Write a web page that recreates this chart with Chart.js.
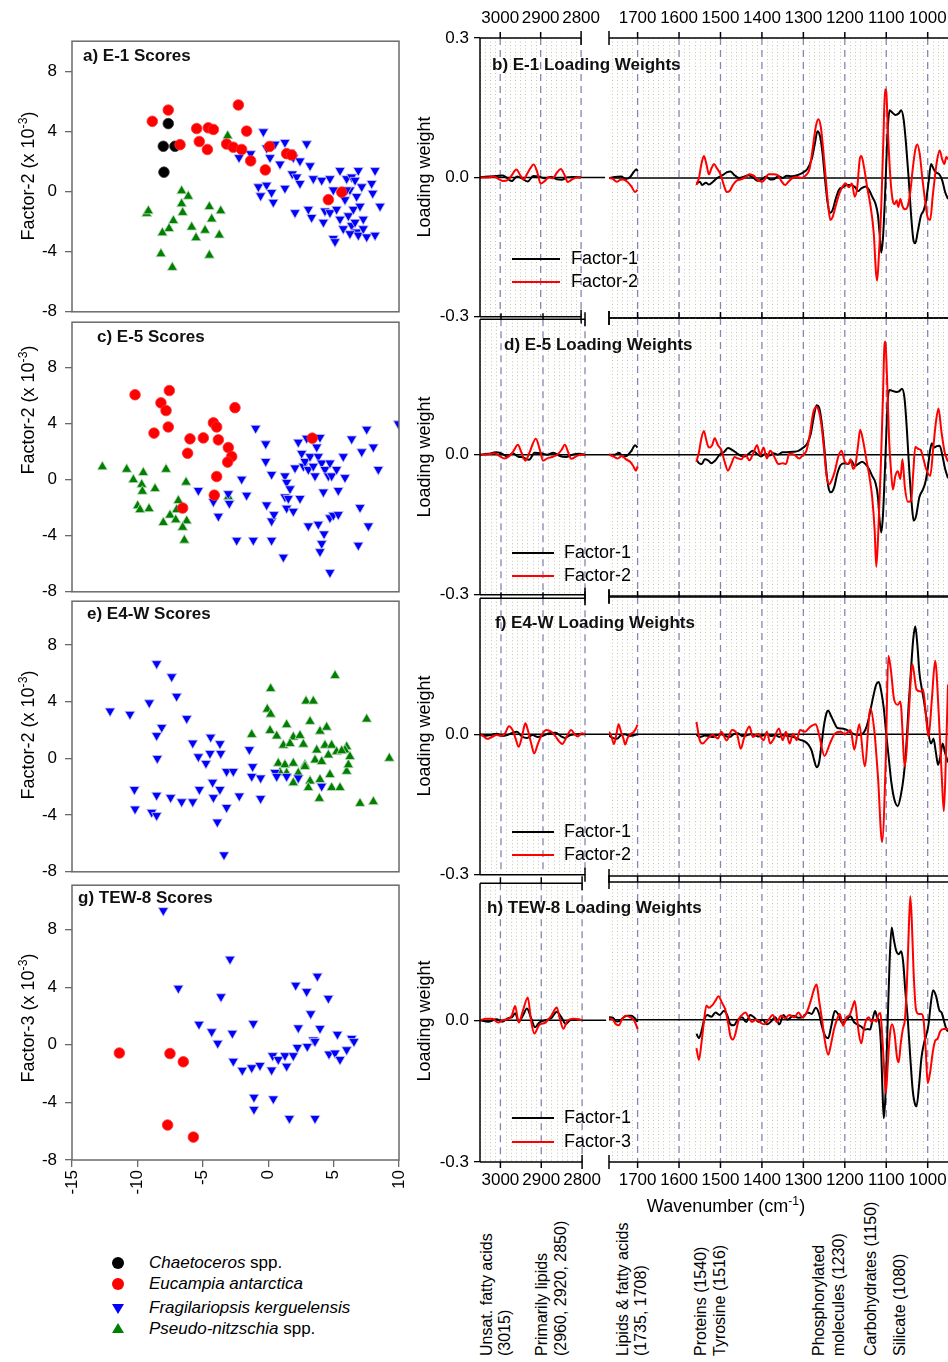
<!DOCTYPE html>
<html><head><meta charset="utf-8">
<script src="https://cdn.jsdelivr.net/npm/chart.js@4.4.1/dist/chart.umd.min.js"></script>
<style>
html,body{margin:0;padding:0;background:#fff;}
#fig{position:relative;width:948px;height:1362px;overflow:hidden;font-family:"Liberation Sans",Arial,Helvetica,sans-serif;color:#000;background:#fff;}
canvas{position:absolute;}
.rot{position:absolute;white-space:nowrap;transform:translate(-50%,-50%) rotate(-90deg);line-height:1;}
.ann{position:absolute;white-space:nowrap;transform-origin:0 0;transform:rotate(-90deg);font-size:16px;line-height:18px;}
.txt{position:absolute;white-space:nowrap;}
sup{font-size:0.68em;vertical-align:0.55em;line-height:0;}
</style></head><body><div id="fig"></div>
<script>
// ---------------- DATA ----------------
// Score plots: [x, y] pairs (x 10^-3)
const A_CHAETOCEROS = [[-7.64,4.52],[-8.02,3.01],[-7.13,3.01],[-7.97,1.29]];
const A_EUCAMPIA = [[-8.86,4.67],[-7.64,5.42],[-6.74,3.12],[-5.47,4.19],[-5.27,3.33],[-4.65,2.80],[-4.58,4.24],[-4.19,4.13],[-3.18,3.16],[-2.67,2.95],[-2.28,5.76],[-2.03,2.80],[-1.65,4.02],[-1.34,2.04],[-0.22,1.44],[0.10,3.00],[1.41,2.52],[1.79,2.43],[4.60,-0.54],[5.62,-0.04]];
const A_FRAGILARIOPSIS = [[-0.37,3.98],[-0.12,2.90],[0.52,3.16],[1.28,3.27],[2.94,3.18],[-2.23,2.26],[-1.34,2.52],[0.14,2.26],[0.90,1.83],[1.67,2.58],[1.92,2.26],[2.43,2.04],[3.20,1.72],[1.84,1.18],[2.18,0.97],[2.43,0.54],[3.45,0.86],[-0.75,0.32],[-0.12,0.43],[-0.58,-0.28],[0.26,-0.06],[0.39,-0.71],[1.28,0.22],[2.05,-1.40],[3.07,-1.18],[3.32,-1.72],[4.22,-2.04],[4.09,0.75],[4.72,0.86],[4.98,0.11],[5.49,1.40],[6.00,0.86],[6.38,0.97],[6.64,0.75],[6.89,1.40],[7.15,0.32],[7.91,0.54],[8.17,1.40],[7.99,-0.11],[4.34,-1.29],[4.72,-1.40],[5.23,-1.18],[5.49,-1.83],[5.87,-0.54],[6.25,0.11],[6.13,-1.61],[6.51,-1.18],[6.76,-0.32],[7.02,-0.97],[7.27,-1.83],[6.38,-2.26],[6.76,-2.69],[6.89,-2.90],[7.27,-2.47],[7.53,-3.01],[8.17,-2.90],[8.55,-0.97],[4.98,-3.12],[5.11,-3.33],[5.74,-2.47],[6.25,-2.80],[6.64,-2.04],[6.00,0.11]];
const A_PSEUDONITZSCHIA = [[-3.10,3.70],[-9.29,-1.46],[-9.16,-1.29],[-6.62,0.04],[-6.11,-0.32],[-6.62,-0.82],[-6.54,-1.40],[-7.25,-1.94],[-7.58,-2.47],[-8.09,-2.75],[-5.85,-2.37],[-5.52,-3.08],[-4.83,-2.58],[-4.50,-1.01],[-4.32,-1.83],[-3.63,-1.29],[-3.74,-2.90],[-4.50,-4.24],[-8.20,-4.15],[-7.33,-5.05]];

const C_EUCAMPIA = [[-10.18,6.07],[-7.56,6.37],[-8.20,5.49],[-7.81,4.94],[-7.64,3.77],[-8.73,3.33],[-5.98,2.92],[-4.96,2.99],[-4.19,4.07],[-3.94,3.77],[-3.81,2.85],[-6.16,1.89],[-3.05,2.30],[-2.79,1.66],[-3.10,1.26],[-2.54,5.15],[-3.94,0.23],[-4.12,-1.10],[-6.54,-2.02],[3.37,2.97]];
const C_FRAGILARIOPSIS = [[-5.34,-0.76],[-4.19,-1.56],[-3.81,-2.60],[-3.05,-0.99],[-2.97,-1.68],[-2.41,-4.32],[-2.03,0.05],[-1.65,-1.10],[-1.14,-4.32],[-0.96,3.68],[-0.19,2.57],[-0.19,1.31],[-0.12,-1.79],[0.26,0.39],[0.26,-2.94],[0.26,-4.32],[0.44,-2.48],[1.16,-5.52],[1.28,0.28],[1.28,-1.22],[1.41,-0.18],[1.41,-2.02],[1.54,-1.33],[1.67,-0.64],[1.92,-2.25],[2.05,0.85],[2.30,2.69],[2.43,-1.33],[2.56,1.89],[2.69,0.97],[2.94,2.97],[2.81,1.31],[3.07,0.74],[3.20,1.66],[3.45,0.97],[3.58,0.28],[3.71,2.34],[3.83,1.66],[3.96,3.03],[4.09,1.20],[4.22,-0.87],[4.34,0.74],[4.60,0.28],[4.72,1.20],[4.85,0.28],[5.23,0.74],[5.36,-0.76],[5.87,0.16],[5.74,1.66],[4.72,-2.71],[4.98,-2.53],[5.36,-2.48],[3.07,-3.29],[3.83,-3.17],[4.27,-3.86],[4.09,-4.55],[3.96,-5.13],[4.72,-6.62],[6.38,2.92],[7.15,2.00],[7.53,3.61],[8.04,2.34],[8.42,0.74],[7.02,-1.98],[7.66,-3.29],[6.89,-4.67],[9.95,4.00]];
const C_PSEUDONITZSCHIA = [[-12.68,0.92],[-10.82,0.74],[-9.55,0.51],[-10.31,0.00],[-9.67,-0.34],[-9.62,-0.83],[-8.65,-0.64],[-7.81,0.74],[-6.28,-0.18],[-9.98,-1.86],[-9.80,-2.14],[-9.11,-2.07],[-6.87,-1.49],[-7.00,-2.14],[-7.51,-2.53],[-8.02,-3.06],[-7.07,-2.87],[-6.23,-2.94],[-6.54,-3.40],[-6.41,-4.32],[-3.05,-1.22]];

const E_FRAGILARIOPSIS = [[-12.09,3.34],[-10.57,3.11],[-9.09,3.92],[-8.53,6.68],[-7.38,5.76],[-7.00,4.38],[-8.14,2.19],[-8.53,1.61],[-6.23,2.81],[-8.48,0.00],[-10.23,-2.19],[-10.18,-3.57],[-8.91,-3.80],[-8.53,-4.03],[-8.53,-2.60],[-7.46,-2.76],[-6.62,-3.06],[-5.77,-3.06],[-5.77,1.08],[-5.34,0.12],[-5.26,-2.19],[-4.76,-0.35],[-4.45,0.35],[-4.40,1.50],[-3.69,1.04],[-3.63,0.35],[-4.25,-1.68],[-4.19,-2.76],[-3.69,-2.19],[-3.18,-0.92],[-2.67,-0.92],[-3.18,-3.46],[-2.21,-2.65],[-3.89,-4.49],[-3.38,-6.80],[-1.44,0.62],[-1.19,-0.58],[-1.26,-1.27],[-0.58,-1.38],[-0.58,-2.83],[0.52,-0.99],[0.65,-1.27],[1.41,-1.27],[2.30,-1.38],[4.09,-1.96]];
const E_PSEUDONITZSCHIA = [[0.19,4.91],[-0.07,3.46],[0.19,3.11],[-1.26,1.68],[0.14,1.96],[0.65,1.57],[1.41,2.37],[1.92,1.50],[2.43,1.61],[1.16,0.92],[1.67,1.04],[2.69,0.99],[3.20,2.60],[2.89,4.03],[3.45,4.03],[5.11,5.83],[3.96,1.91],[4.47,2.19],[4.34,0.92],[3.71,0.58],[4.85,0.92],[6.00,0.81],[5.87,0.58],[7.53,2.76],[9.26,0.00],[0.77,-0.35],[1.28,-0.46],[1.92,-0.35],[2.81,-0.46],[3.58,-0.12],[4.09,-0.23],[4.60,0.23],[5.23,0.46],[5.62,0.53],[6.25,0.12],[0.90,-0.99],[1.41,-1.04],[2.30,-1.04],[2.81,-0.58],[3.20,-1.61],[3.96,-1.50],[1.92,-1.73],[3.07,-2.07],[3.91,-2.83],[4.85,-2.07],[5.49,-2.07],[7.02,-3.18],[8.04,-3.06],[6.00,-0.92],[4.72,-1.15],[6.13,-0.46]];

const G_EUCAMPIA = [[-11.38,-0.57],[-7.51,-0.61],[-6.49,-1.18],[-7.69,-5.57],[-5.72,-6.41]];
const G_FRAGILARIOPSIS = [[-8.02,9.32],[-6.87,3.93],[-2.92,5.95],[-3.61,3.34],[-5.29,1.43],[-4.32,0.91],[-3.86,0.11],[-2.74,0.80],[-2.67,-1.14],[-1.98,-1.77],[-1.26,-1.59],[-1.14,1.48],[-0.63,-1.43],[-1.09,-3.64],[-1.09,-4.48],[0.26,-1.75],[0.39,-3.75],[0.34,-0.75],[0.77,-1.02],[1.28,-0.75],[1.41,-1.48],[1.62,-5.11],[1.92,-0.75],[2.10,4.14],[2.30,1.18],[2.23,-0.18],[2.94,3.70],[2.99,-0.11],[3.25,2.16],[3.45,0.34],[3.58,0.23],[3.76,4.77],[3.96,1.14],[3.58,-5.11],[4.60,3.23],[4.65,-0.64],[5.11,-0.57],[5.29,0.73],[5.49,-1.02],[6.00,-0.34],[6.38,0.45],[6.56,0.23]];

// Loading weights: [wavenumber (cm-1), loading weight]; null = no data
const E1_FACTOR1 = [[3050,0],[3030,0.002],[3010,0.003],[2995,0.004],[2985,0],[2972,-0.008],[2958,0.002],[2945,-0.003],[2932,-0.009],[2918,0.003],[2905,0.002],[2890,-0.002],[2875,0.001],[2860,-0.004],[2848,-0.005],[2835,0],[2820,0.001],[2800,0],
[1769,0],[1755,0.002],[1740,0.003],[1728,-0.002],[1718,0.002],[1710,0.012],[1703,0.019],[1700,0.015],[1630,null],
[1558,-0.012],[1550,-0.008],[1544,-0.015],[1535,-0.01],[1528,-0.014],[1518,-0.008],[1508,0],[1495,0.006],[1485,0.012],[1476,0.014],[1466,0.006],[1455,0],[1445,0.002],[1432,0.006],[1420,0],[1410,-0.006],[1400,-0.003],[1390,0.003],[1380,-0.003],[1370,-0.002],[1360,0.004],[1350,0],[1340,0.005],[1328,0.004],[1315,0.006],[1300,0.012],[1290,0.02],[1280,0.04],[1272,0.075],[1266,0.1],[1260,0.09],[1254,0.055],[1248,0],[1242,-0.05],[1236,-0.075],[1230,-0.07],[1222,-0.045],[1214,-0.025],[1205,-0.02],[1195,-0.015],[1185,-0.015],[1175,-0.02],[1168,-0.028],[1160,-0.022],[1150,-0.018],[1142,-0.025],[1134,-0.04],[1126,-0.055],[1120,-0.08],[1116,-0.12],[1112,-0.16],[1108,-0.13],[1104,-0.06],[1100,0.03],[1096,0.11],[1092,0.145],[1085,0.14],[1078,0.135],[1070,0.138],[1064,0.145],[1058,0.125],[1052,0.07],[1046,0],[1040,-0.08],[1034,-0.135],[1030,-0.14],[1024,-0.115],[1016,-0.08],[1010,-0.07],[1004,-0.05],[998,-0.01],[992,0.03],[986,0.02],[980,0.012],[972,0.008],[965,-0.005],[958,-0.03],[951,-0.045]];
const E1_FACTOR2 = [[3050,0],[3030,0],[3015,0.002],[3005,-0.003],[2992,-0.008],[2982,-0.006],[2972,0.004],[2960,0.017],[2950,0.004],[2942,-0.004],[2932,0.01],[2917,0.028],[2908,0.01],[2900,-0.013],[2890,-0.008],[2880,0],[2870,-0.002],[2860,0.01],[2850,0.018],[2841,0.005],[2833,-0.01],[2822,-0.004],[2810,0],[2800,0],
[1769,0],[1760,-0.002],[1750,-0.008],[1742,-0.004],[1735,-0.003],[1725,-0.008],[1715,-0.018],[1706,-0.03],[1700,-0.025],[1630,null],
[1558,-0.015],[1552,0],[1546,0.03],[1540,0.047],[1534,0.03],[1528,0.008],[1522,0.02],[1516,0.03],[1508,0.02],[1500,0.008],[1492,-0.015],[1485,-0.03],[1478,-0.028],[1470,-0.015],[1460,-0.005],[1450,-0.003],[1440,0.002],[1430,0.008],[1420,0.005],[1410,-0.004],[1400,-0.008],[1392,-0.002],[1384,0.008],[1372,0.008],[1362,0.006],[1352,-0.008],[1344,-0.015],[1336,-0.008],[1326,0],[1315,0.002],[1305,0],[1295,0.005],[1285,0.02],[1278,0.06],[1270,0.11],[1264,0.126],[1258,0.11],[1252,0.06],[1246,0],[1240,-0.06],[1235,-0.09],[1230,-0.085],[1222,-0.06],[1214,-0.035],[1205,-0.018],[1198,-0.012],[1190,-0.02],[1183,-0.012],[1176,-0.04],[1170,-0.02],[1164,0.04],[1160,0.047],[1154,0.025],[1146,-0.02],[1138,-0.06],[1130,-0.12],[1125,-0.2],[1122,-0.22],[1118,-0.17],[1112,-0.06],[1107,0.08],[1103,0.19],[1100,0.185],[1096,0.1],[1090,0],[1085,-0.045],[1080,-0.056],[1075,-0.048],[1071,-0.062],[1066,-0.045],[1061,-0.06],[1055,-0.067],[1048,-0.06],[1042,-0.03],[1036,0.02],[1030,0.06],[1025,0.072],[1019,0.05],[1013,0],[1006,-0.05],[1000,-0.085],[994,-0.09],[988,-0.04],[983,0],[977,0.04],[971,0.059],[965,0.04],[960,0.03],[955,0.045],[951,0.04]];

const E5_FACTOR1 = [[3050,0],[3030,0.002],[3012,0.005],[2998,0.002],[2985,-0.004],[2972,0.003],[2960,-0.004],[2947,-0.006],[2933,-0.011],[2920,0.004],[2905,0.003],[2890,0],[2875,0.004],[2860,-0.003],[2845,-0.005],[2830,0],[2815,0.002],[2800,0],
[1769,0],[1755,0],[1745,0.004],[1735,-0.004],[1725,-0.002],[1715,0.008],[1706,0.02],[1700,0.015],[1630,null],
[1558,-0.01],[1552,-0.018],[1545,-0.02],[1538,-0.01],[1530,-0.012],[1522,-0.018],[1512,-0.012],[1502,0],[1492,0.005],[1482,0.014],[1472,0.01],[1462,0.004],[1452,-0.002],[1442,-0.004],[1432,0.002],[1422,0.008],[1412,0.002],[1402,-0.004],[1392,0.002],[1382,-0.002],[1372,0.003],[1362,0],[1350,0.005],[1340,0.005],[1325,0.006],[1312,0.008],[1300,0.015],[1290,0.025],[1282,0.045],[1275,0.08],[1268,0.105],[1262,0.1],[1256,0.07],[1250,0.02],[1244,-0.04],[1238,-0.075],[1233,-0.08],[1226,-0.07],[1218,-0.04],[1210,-0.022],[1200,-0.018],[1192,-0.02],[1184,-0.013],[1176,-0.024],[1168,-0.02],[1158,-0.015],[1150,-0.02],[1142,-0.03],[1134,-0.045],[1126,-0.06],[1120,-0.09],[1116,-0.14],[1112,-0.165],[1108,-0.13],[1104,-0.05],[1100,0.04],[1096,0.12],[1092,0.137],[1084,0.135],[1076,0.133],[1068,0.135],[1062,0.14],[1056,0.12],[1050,0.05],[1044,-0.04],[1038,-0.11],[1034,-0.14],[1028,-0.13],[1020,-0.09],[1012,-0.075],[1006,-0.06],[1000,-0.03],[994,0.01],[990,0.024],[984,0.015],[978,0.018],[971,0.019],[965,0],[958,-0.03],[951,-0.05]];
const E5_FACTOR2 = [[3050,0],[3030,0.001],[3015,0.003],[3003,-0.003],[2992,-0.008],[2980,-0.003],[2970,0.008],[2960,0.021],[2951,0.004],[2942,-0.013],[2932,0.005],[2917,0.034],[2908,0.012],[2900,-0.013],[2890,-0.008],[2878,-0.005],[2866,0],[2856,0.01],[2848,0.021],[2840,0.005],[2833,-0.009],[2820,-0.003],[2810,0],[2800,0],
[1769,0],[1758,-0.004],[1748,-0.008],[1738,-0.003],[1728,-0.01],[1718,-0.015],[1710,-0.025],[1704,-0.034],[1700,-0.025],[1630,null],
[1558,-0.015],[1552,0.005],[1546,0.035],[1540,0.05],[1534,0.03],[1528,0.015],[1520,0.02],[1514,0.035],[1506,0.02],[1498,0.01],[1490,-0.015],[1482,-0.034],[1474,-0.02],[1466,-0.005],[1458,-0.008],[1450,-0.01],[1440,0],[1430,-0.012],[1420,0.005],[1412,0.02],[1404,0],[1396,0.015],[1388,-0.008],[1380,0.008],[1370,-0.005],[1360,-0.02],[1350,-0.018],[1342,-0.02],[1334,0.002],[1322,0],[1310,-0.008],[1300,0],[1292,0.01],[1284,0.045],[1276,0.09],[1268,0.101],[1262,0.09],[1256,0.06],[1250,0.01],[1244,-0.045],[1238,-0.063],[1232,-0.055],[1224,-0.035],[1216,-0.005],[1208,0.008],[1200,-0.015],[1192,-0.02],[1186,-0.01],[1180,-0.03],[1174,-0.02],[1168,0.02],[1163,0.053],[1156,0.03],[1148,-0.01],[1140,-0.05],[1134,-0.09],[1128,-0.16],[1124,-0.238],[1119,-0.16],[1113,-0.02],[1108,0.12],[1105,0.22],[1102,0.24],[1098,0.16],[1093,0.03],[1088,-0.04],[1084,-0.074],[1078,-0.045],[1072,-0.035],[1066,-0.052],[1061,-0.01],[1055,-0.07],[1048,-0.1],[1040,-0.098],[1035,-0.04],[1030,0.016],[1022,0.012],[1017,0.01],[1010,-0.01],[1004,-0.03],[994,-0.045],[986,0.02],[980,0.07],[974,0.098],[967,0.05],[959,0.005],[951,-0.015]];

const E4W_FACTOR1 = [[3050,0],[3040,-0.004],[3025,-0.002],[3010,0.001],[2998,-0.004],[2985,-0.002],[2972,0.003],[2962,0.005],[2950,-0.005],[2938,-0.008],[2925,-0.002],[2912,-0.006],[2900,-0.003],[2885,0.002],[2870,0.003],[2858,-0.004],[2848,-0.008],[2835,-0.002],[2820,0],[2800,0],
[1769,-0.003],[1760,-0.008],[1750,-0.01],[1740,-0.002],[1730,0],[1720,-0.004],[1710,-0.003],[1700,0],[1630,null],
[1558,0],[1552,-0.006],[1545,-0.005],[1538,-0.003],[1528,-0.004],[1518,-0.006],[1508,-0.002],[1498,0],[1488,-0.004],[1478,-0.006],[1468,0],[1458,0.002],[1448,-0.004],[1438,-0.003],[1428,0],[1418,-0.002],[1408,-0.005],[1398,-0.003],[1388,0],[1378,-0.004],[1368,-0.002],[1358,-0.006],[1348,-0.002],[1338,-0.004],[1328,-0.005],[1318,-0.008],[1308,-0.012],[1298,-0.015],[1288,-0.022],[1280,-0.035],[1274,-0.055],[1268,-0.07],[1262,-0.06],[1256,-0.02],[1250,0.02],[1244,0.045],[1240,0.05],[1234,0.04],[1226,0.025],[1218,0.013],[1208,0.012],[1198,0.01],[1188,0.005],[1178,0],[1168,-0.002],[1158,0],[1150,0.01],[1143,0.03],[1136,0.06],[1130,0.085],[1124,0.105],[1118,0.11],[1112,0.09],[1106,0.055],[1100,0],[1094,-0.05],[1088,-0.1],[1080,-0.14],[1072,-0.152],[1065,-0.13],[1058,-0.09],[1052,-0.03],[1046,0.06],[1040,0.14],[1035,0.2],[1030,0.228],[1025,0.19],[1020,0.13],[1015,0.1],[1010,0.075],[1004,0.04],[998,0],[992,-0.02],[986,-0.01],[980,-0.04],[975,-0.065],[970,-0.05],[964,-0.02],[958,-0.04],[951,-0.06]];
const E4W_FACTOR2 = [[3050,0],[3042,-0.004],[3033,-0.01],[3022,-0.006],[3010,-0.002],[2998,-0.004],[2990,0.002],[2981,0.017],[2972,0.008],[2965,-0.01],[2958,-0.027],[2950,-0.005],[2942,0.023],[2935,0.005],[2928,-0.02],[2921,-0.041],[2912,-0.02],[2902,0],[2892,0.009],[2880,0.005],[2870,-0.005],[2862,-0.015],[2854,-0.021],[2845,-0.008],[2833,0.009],[2825,0],[2817,-0.005],[2808,0.002],[2800,0],
[1769,0.005],[1763,-0.005],[1757,-0.021],[1751,0],[1746,0.021],[1740,0.005],[1734,-0.01],[1730,-0.022],[1724,-0.008],[1717,0],[1710,0.004],[1704,0.012],[1700,0.02],[1630,null],
[1558,0.026],[1550,-0.013],[1543,-0.02],[1531,-0.009],[1519,-0.002],[1506,-0.009],[1498,0.005],[1485,-0.013],[1472,0.009],[1460,0],[1451,-0.031],[1443,-0.008],[1430,0.016],[1422,-0.006],[1409,0.001],[1396,-0.013],[1388,0.005],[1380,-0.02],[1371,-0.009],[1359,0.012],[1350,-0.013],[1342,0.005],[1333,-0.02],[1325,0.001],[1316,-0.013],[1308,0.009],[1296,0.005],[1283,0.016],[1270,0.021],[1262,-0.002],[1249,-0.046],[1236,-0.02],[1224,0.001],[1211,0.005],[1199,0],[1186,0.009],[1177,-0.033],[1165,0.021],[1152,-0.068],[1138,0.055],[1129,0.009],[1120,-0.09],[1110,-0.228],[1101,-0.048],[1095,0.166],[1089,0.137],[1081,0.073],[1072,0.062],[1066,0.069],[1055,-0.068],[1047,0.023],[1037,0.148],[1027,0.094],[1017,0.09],[1011,0.094],[1004,0.037],[998,-0.006],[990,0.073],[982,0.155],[973,0.037],[966,-0.091],[961,-0.163],[956,-0.049],[951,0.105]];

const TEW8_FACTOR1 = [[3050,0],[3030,-0.003],[3010,0.002],[2995,-0.003],[2980,0.005],[2972,0.006],[2964,0.015],[2955,-0.003],[2945,0.01],[2935,0.025],[2925,0.005],[2915,-0.015],[2905,-0.005],[2890,0],[2875,0.005],[2862,0.018],[2850,0.005],[2840,-0.008],[2830,0],[2815,0.002],[2800,0],
[1769,0.005],[1760,0.004],[1750,-0.004],[1742,-0.002],[1735,0.004],[1725,0.008],[1715,0.008],[1708,0.004],[1700,-0.005],[1630,null],
[1558,-0.03],[1552,-0.039],[1546,-0.025],[1540,-0.002],[1532,0.01],[1522,0.006],[1512,0.015],[1502,0.01],[1492,0.018],[1484,0.01],[1476,-0.01],[1468,-0.012],[1458,0],[1448,0.005],[1438,-0.005],[1428,0.01],[1418,0.004],[1408,-0.005],[1398,0],[1388,-0.01],[1378,-0.004],[1368,0.005],[1358,-0.01],[1348,0.01],[1338,0],[1325,0.008],[1312,0.004],[1300,0.006],[1290,0.015],[1280,0.012],[1270,0.025],[1262,0.012],[1255,-0.015],[1247,-0.035],[1240,-0.039],[1233,-0.015],[1224,0.018],[1215,0.01],[1206,-0.007],[1196,0],[1186,0.007],[1178,-0.005],[1170,-0.01],[1160,-0.015],[1152,-0.021],[1144,-0.02],[1139,-0.021],[1133,0],[1127,0.018],[1122,0.005],[1117,-0.007],[1113,-0.05],[1109,-0.15],[1106,-0.208],[1102,-0.16],[1097,-0.02],[1092,0.12],[1087,0.194],[1082,0.17],[1076,0.145],[1070,0.138],[1064,0.144],[1059,0.12],[1054,0.06],[1048,0],[1042,-0.08],[1036,-0.15],[1030,-0.18],[1027,-0.183],[1021,-0.14],[1015,-0.08],[1009,-0.05],[1004,-0.035],[998,-0.01],[993,0.03],[987,0.062],[980,0.05],[972,0.02],[966,0.014],[960,-0.005],[955,-0.02],[951,-0.025]];
const TEW8_FACTOR3 = [[3050,0],[3035,0.003],[3020,0.003],[3005,-0.005],[2995,0],[2980,0.003],[2972,0.01],[2964,0.03],[2955,-0.005],[2945,0.02],[2933,0.048],[2925,0],[2917,-0.028],[2905,-0.01],[2890,-0.005],[2875,0.01],[2862,0.027],[2855,0.005],[2846,-0.018],[2835,0],[2820,0.003],[2800,0],
[1769,0.003],[1760,0],[1752,-0.01],[1745,-0.012],[1738,0],[1728,0.008],[1718,0.005],[1710,0],[1704,-0.01],[1700,-0.02],[1630,null],
[1558,-0.06],[1552,-0.085],[1546,-0.05],[1540,-0.005],[1534,0.03],[1528,0.025],[1520,0.03],[1512,0.04],[1505,0.049],[1496,0.035],[1488,0.02],[1481,-0.01],[1476,-0.035],[1470,-0.042],[1464,-0.03],[1456,0],[1448,0.01],[1440,0.015],[1432,0.005],[1424,-0.005],[1414,0],[1404,-0.006],[1394,-0.01],[1384,0],[1374,0.01],[1364,-0.005],[1354,0.008],[1344,0.003],[1334,0.01],[1322,0.005],[1312,0.015],[1302,0.005],[1292,0.015],[1282,0.04],[1274,0.065],[1268,0.074],[1262,0.04],[1255,0],[1248,-0.045],[1240,-0.074],[1233,-0.05],[1226,-0.02],[1219,0],[1212,0.012],[1204,-0.013],[1196,0.005],[1188,0.01],[1182,0.025],[1176,0.039],[1170,0],[1166,-0.03],[1160,-0.05],[1154,-0.02],[1148,0],[1142,0.005],[1136,-0.005],[1130,0],[1124,-0.004],[1119,0.01],[1114,0.014],[1110,-0.03],[1106,-0.09],[1101,-0.155],[1096,-0.09],[1091,-0.03],[1086,-0.01],[1080,-0.03],[1074,-0.08],[1070,-0.09],[1065,-0.05],[1060,-0.02],[1055,0],[1050,0.08],[1046,0.18],[1042,0.26],[1038,0.2],[1034,0.1],[1028,0.02],[1022,0.012],[1015,0.012],[1010,0],[1005,-0.06],[1000,-0.134],[994,-0.11],[988,-0.07],[982,-0.045],[976,-0.04],[970,-0.025],[962,-0.02],[955,-0.02],[951,-0.02]];

// Tick labels
const SCORE_X_TICKS = [-15,-10,-5,0,5,10];
const SCORE_Y_TICKS = [-8,-4,0,4,8];
const WN_TICKS_HIGH = [3000,2900,2800];
const WN_TICKS_LOW = [1700,1600,1500,1400,1300,1200,1100,1000];
const SPECIES_NAMES = [['Chaetoceros',' spp.'],['Eucampia antarctica',''],['Fragilariopsis kerguelensis',''],['Pseudo-nitzschia',' spp.']];
const BAND_LABELS = ['Unsat. fatty acids','(3015)','Primarily lipids','(2960, 2920, 2850)','Lipids & fatty acids','(1735, 1708)','Proteins (1540)','Tyrosine (1516)','Phosphorylated','molecules (1230)','Carbohydrates (1150)','Silicate (1080)'];

// ---------------- LAYOUT / STYLE ----------------
const FONT = '"Liberation Sans", Arial, Helvetica, sans-serif';
Chart.defaults.font.family = FONT;
Chart.defaults.color = '#000';
const fig = document.getElementById('fig');

const SP = {
  chaet:  {shape:'circle',   color:'#000000', edge:'#333333', r:5.3, rot:0,   order:3},
  euc:    {shape:'circle',   color:'#ff0000', edge:'#ff3030', r:5.3, rot:0,   order:0},
  frag:   {shape:'triangle', color:'#0000ff', edge:'#c8c8e8', r:5.8, rot:180, order:1},
  pseudo: {shape:'triangle', color:'#008000', edge:'#c8dcc8', r:5.8, rot:0,   order:2}
};

function makeCanvas(left, top, w, h) {
  const c = document.createElement('canvas');
  c.width = w; c.height = h;
  c.style.left = left + 'px'; c.style.top = top + 'px';
  c.style.width = w + 'px'; c.style.height = h + 'px';
  fig.appendChild(c);
  return c;
}

const scatterFrame = {
  id: 'scatterFrame',
  afterDatasetsDraw(chart, args, o) {
    const {ctx, chartArea: a} = chart;
    ctx.save();
    ctx.strokeStyle = '#6a6a6a'; ctx.lineWidth = 1.5;
    ctx.strokeRect(a.left, a.top, a.right - a.left, a.bottom - a.top);
    ctx.fillStyle = '#111';
    ctx.font = 'bold 17px ' + FONT;
    ctx.textAlign = 'left'; ctx.textBaseline = 'middle';
    ctx.fillText(o.title, o.tx, o.ty - o.cTop);
    ctx.restore();
  }
};

function scatterPanel(p) {
  const padT = 14, padB = p.showX ? 0 : 14, axisH = p.showX ? 48 : 0;
  const cW = 440;
  const cTop = p.top - padT;
  const cH = (p.bottom - p.top) + padT + padB + axisH;
  const cv = makeCanvas(0, cTop, cW, cH);
  new Chart(cv, {
    type: 'scatter',
    data: { datasets: p.sets.map(s => ({
      label: s.name,
      data: s.pts.map(q => ({x: q[0], y: q[1]})),
      pointStyle: SP[s.sp].shape, pointRadius: SP[s.sp].r, pointHoverRadius: SP[s.sp].r,
      pointRotation: SP[s.sp].rot,
      backgroundColor: SP[s.sp].color, borderColor: SP[s.sp].edge, borderWidth: 0.8,
      order: SP[s.sp].order
    })) },
    options: {
      responsive: false, animation: false, events: [],
      layout: { padding: {top: padT, bottom: padB, left: 0, right: cW - 399} },
      plugins: { legend: {display: false}, tooltip: {enabled: false},
        scatterFrame: {title: p.title, tx: p.tx, ty: p.ty, cTop: cTop} },
      scales: {
        x: { type: 'linear', min: -15, max: 10, display: !!p.showX, position: 'bottom',
          afterFit(s) { s.height = axisH; },
          afterBuildTicks(s) { s.ticks = SCORE_X_TICKS.map(v => ({value: v})); },
          ticks: { autoSkip: false, minRotation: 90, maxRotation: 90, padding: 3, font: {size: 17}, color: '#000', callback: v => String(v) },
          grid: { drawOnChartArea: false, drawTicks: true, tickLength: 7, color: '#6a6a6a', lineWidth: 1.3 },
          border: { display: false } },
        y: { type: 'linear', min: -8, max: p.yMax,
          afterFit(s) { s.width = 72; },
          afterBuildTicks(s) { s.ticks = SCORE_Y_TICKS.map(v => ({value: v})); },
          ticks: { autoSkip: false, padding: 8, font: {size: 17}, color: '#000', callback: v => String(v) },
          grid: { drawOnChartArea: false, drawTicks: true, tickLength: 7, color: '#6a6a6a', lineWidth: 1.3 },
          border: { display: false } }
      }
    },
    plugins: [scatterFrame]
  });
}

const loadFrame = {
  id: 'loadFrame',
  beforeDatasetsDraw(chart, args, o) {
    const {ctx, chartArea: a, scales: {x, y}} = chart;
    ctx.save();
    ctx.lineWidth = 1; ctx.strokeStyle = '#c6c6ae'; ctx.setLineDash([1, 2.5]);
    for (let w = Math.ceil(x.min / 12.5) * 12.5; w <= x.max; w += 12.5) {
      if (w % 100 === 0) continue;
      const px = Math.round(x.getPixelForValue(w)) + 0.5;
      ctx.beginPath(); ctx.moveTo(px, a.top); ctx.lineTo(px, a.bottom); ctx.stroke();
    }
    ctx.strokeStyle = '#8686ae'; ctx.lineWidth = 1.3; ctx.setLineDash([7, 5]);
    for (const w of o.majors) {
      const px = x.getPixelForValue(w);
      ctx.beginPath(); ctx.moveTo(px, a.top); ctx.lineTo(px, a.bottom); ctx.stroke();
    }
    ctx.setLineDash([]); ctx.strokeStyle = '#000'; ctx.lineWidth = 1.5;
    const y0 = y.getPixelForValue(0);
    ctx.beginPath(); ctx.moveTo(a.left, y0); ctx.lineTo(a.right + o.zeroExt, y0); ctx.stroke();
    ctx.restore();
  },
  afterDatasetsDraw(chart, args, o) {
    const {ctx, chartArea: a, scales: {x}} = chart;
    ctx.save();
    ctx.strokeStyle = '#000'; ctx.lineWidth = 1.5; ctx.setLineDash([]);
    const ln = (x1, y1, x2, y2) => { ctx.beginPath(); ctx.moveTo(x1, y1); ctx.lineTo(x2, y2); ctx.stroke(); };
    ln(a.left, a.top, a.right, a.top);
    ln(a.left, a.bottom, a.right, a.bottom);
    if (o.leftAxis) ln(a.left, a.top, a.left, a.bottom);
    const bx = o.breakRight ? a.right : a.left;
    ln(bx, a.top - 7, bx, a.top + 7);
    ln(bx, a.bottom - 7, bx, a.bottom + 7);
    for (const w of o.ticks) {
      if (w === 2800) continue;
      const px = x.getPixelForValue(w);
      ln(px, a.top - 6, px, a.top);
      if (o.bottomTicks) ln(px, a.bottom, px, a.bottom + 6);
    }
    if (o.title) {
      ctx.fillStyle = '#111'; ctx.font = 'bold 17px ' + FONT;
      ctx.textAlign = 'left'; ctx.textBaseline = 'middle';
      ctx.fillText(o.title, o.tx - o.cLeft, o.ty - o.cTop);
      const ds = chart.data.datasets;
      ctx.font = '18px ' + FONT; ctx.fillStyle = '#000';
      ds.forEach((d, i) => {
        const yy = o.legY[i] - o.cTop;
        ctx.strokeStyle = d.borderColor; ctx.lineWidth = 2.2;
        ln(o.legX1 - o.cLeft, yy, o.legX2 - o.cLeft, yy);
        ctx.fillText(d.label, o.legTx - o.cLeft, yy);
      });
    }
    ctx.restore();
  }
};

function segChart(p, first, cTop, cH, topH, botH) {
  const cLeft = 400, cW = first ? 209 : 580;
  const cv = makeCanvas(cLeft, cTop, cW, cH);
  const showX = !!(p.showTop || p.showBottom);
  const ticks = first ? WN_TICKS_HIGH : WN_TICKS_LOW;
  new Chart(cv, {
    type: 'line',
    data: { datasets: p.series.map(s => ({
      label: s.name,
      data: s.pts.filter(q => first ? q[0] > 2000 : q[0] < 2000).map(q => ({x: q[0], y: q[1]})),
      borderColor: s.color, backgroundColor: s.color, borderWidth: 2, pointRadius: 0,
      fill: false, spanGaps: false, cubicInterpolationMode: 'monotone', order: s.order
    })) },
    options: {
      responsive: false, animation: false, events: [],
      layout: { padding: { left: first ? 0 : 209, right: first ? 24 : 32,
        top: p.showTop ? 0 : topH, bottom: p.showBottom ? 0 : botH } },
      plugins: { legend: {display: false}, tooltip: {enabled: false},
        loadFrame: {
          majors: first ? [3000, 2900, 2800] : WN_TICKS_LOW, ticks: ticks,
          zeroExt: first ? 24 : 0, leftAxis: first, breakRight: first, bottomTicks: !!p.showBottom,
          title: first ? '' : p.title, tx: p.tx, ty: p.ty, cLeft: cLeft, cTop: cTop,
          legX1: p.leg[0], legX2: p.leg[1], legTx: p.leg[2], legY: p.legY
        } },
      scales: {
        x: { type: 'linear', reverse: true, min: first ? 2800 : 951, max: first ? 3050 : 1769,
          position: p.showTop ? 'top' : 'bottom', display: showX,
          afterFit(s) { s.height = showX ? (p.showTop ? topH : botH) : 0; },
          afterBuildTicks(s) { s.ticks = ticks.map(v => ({value: v})); },
          ticks: { autoSkip: false, minRotation: 0, maxRotation: 0, padding: p.showTop ? 9 : 8, font: {size: 17}, color: '#000', callback: v => String(v) },
          grid: { drawOnChartArea: false, drawTicks: false },
          border: { display: false } },
        y: { type: 'linear', min: -0.3, max: p.yMax, display: first,
          afterFit(s) { s.width = first ? 80 : 0; },
          afterBuildTicks(s) { s.ticks = p.yTicks.map(v => ({value: v})); },
          ticks: { autoSkip: false, padding: 5, font: {size: 17}, color: '#000', callback: v => Number(v).toFixed(1) },
          grid: { drawOnChartArea: false, drawTicks: true, tickLength: 6, color: '#000', lineWidth: 1.3 },
          border: { display: false } }
      }
    },
    plugins: [loadFrame]
  });
}

function loadingPanel(p) {
  const topH = p.showTop ? 36 : 14;
  const botH = p.showBottom ? 34 : 14;
  const cTop = p.top - topH;
  const cH = (p.bottom - p.top) + topH + botH;
  segChart(p, true, cTop, cH, topH, botH);
  segChart(p, false, cTop, cH, topH, botH);
}

function vtext(html, cx, cy, size) {
  const d = document.createElement('div');
  d.className = 'rot'; d.style.left = cx + 'px'; d.style.top = cy + 'px';
  d.style.fontSize = size + 'px'; d.innerHTML = html;
  fig.appendChild(d);
}

// ---------------- BUILD ----------------
scatterPanel({top: 37, bottom: 316, yMax: 10, title: 'a) E-1 Scores', tx: 83, ty: 56,
  sets: [{name:'Chaetoceros spp.', pts:A_CHAETOCEROS, sp:'chaet'}, {name:'Eucampia antarctica', pts:A_EUCAMPIA, sp:'euc'},
         {name:'Fragilariopsis kerguelensis', pts:A_FRAGILARIOPSIS, sp:'frag'}, {name:'Pseudo-nitzschia spp.', pts:A_PSEUDONITZSCHIA, sp:'pseudo'}]});
scatterPanel({top: 318, bottom: 596, yMax: 11.25, title: 'c) E-5 Scores', tx: 97, ty: 337,
  sets: [{name:'Eucampia antarctica', pts:C_EUCAMPIA, sp:'euc'}, {name:'Fragilariopsis kerguelensis', pts:C_FRAGILARIOPSIS, sp:'frag'},
         {name:'Pseudo-nitzschia spp.', pts:C_PSEUDONITZSCHIA, sp:'pseudo'}]});
scatterPanel({top: 597, bottom: 876, yMax: 11.08, title: 'e) E4-W Scores', tx: 87, ty: 614,
  sets: [{name:'Fragilariopsis kerguelensis', pts:E_FRAGILARIOPSIS, sp:'frag'}, {name:'Pseudo-nitzschia spp.', pts:E_PSEUDONITZSCHIA, sp:'pseudo'}]});
scatterPanel({top: 881, bottom: 1160, yMax: 11.08, title: 'g) TEW-8 Scores', tx: 78, ty: 898, showX: true,
  sets: [{name:'Eucampia antarctica', pts:G_EUCAMPIA, sp:'euc'}, {name:'Fragilariopsis kerguelensis', pts:G_FRAGILARIOPSIS, sp:'frag'}]});

loadingPanel({top: 38, bottom: 318, yMax: 0.3, yTicks: [-0.3, 0, 0.3], showTop: true,
  title: 'b) E-1 Loading Weights', tx: 492, ty: 65, leg: [512, 560, 571], legY: [259, 282],
  series: [{name:'Factor-1', pts:E1_FACTOR1, color:'#000000', order:1}, {name:'Factor-2', pts:E1_FACTOR2, color:'#ff0000', order:0}]});
loadingPanel({top: 318, bottom: 596, yMax: 0.29, yTicks: [-0.3, 0],
  title: 'd) E-5 Loading Weights', tx: 504, ty: 345, leg: [512, 554, 564], legY: [553, 576],
  series: [{name:'Factor-1', pts:E5_FACTOR1, color:'#000000', order:1}, {name:'Factor-2', pts:E5_FACTOR2, color:'#ff0000', order:0}]});
loadingPanel({top: 597, bottom: 876, yMax: 0.29, yTicks: [-0.3, 0],
  title: 'f) E4-W Loading Weights', tx: 495, ty: 623, leg: [512, 554, 564], legY: [832, 855],
  series: [{name:'Factor-1', pts:E4W_FACTOR1, color:'#000000', order:1}, {name:'Factor-2', pts:E4W_FACTOR2, color:'#ff0000', order:0}]});
loadingPanel({top: 882, bottom: 1162, yMax: 0.29, yTicks: [-0.3, 0], showBottom: true,
  title: 'h) TEW-8 Loading Weights', tx: 487, ty: 908, leg: [512, 554, 564], legY: [1118, 1142],
  series: [{name:'Factor-1', pts:TEW8_FACTOR1, color:'#000000', order:1}, {name:'Factor-3', pts:TEW8_FACTOR3, color:'#ff0000', order:0}]});

vtext('Factor-2 (x 10<sup>-3</sup>)', 28, 176, 18);
vtext('Factor-2 (x 10<sup>-3</sup>)', 28, 410, 18);
vtext('Factor-2 (x 10<sup>-3</sup>)', 28, 735, 18);
vtext('Factor-3 (x 10<sup>-3</sup>)', 28, 1018, 18);
[177, 457, 736, 1021].forEach(cy => vtext('Loading weight', 424, cy, 18));

const wl = document.createElement('div');
wl.className = 'txt'; wl.style.left = '726px'; wl.style.top = '1196px'; wl.style.fontSize = '18px';
wl.style.transform = 'translateX(-50%)';
wl.innerHTML = 'Wavenumber (cm<sup>-1</sup>)';
fig.appendChild(wl);

const BAND_X = [487, 505, 542, 561, 623, 641, 701, 720, 819, 839, 871, 900];
BAND_LABELS.forEach((t, i) => {
  const d = document.createElement('div');
  d.className = 'ann'; d.style.left = (BAND_X[i] - 9) + 'px'; d.style.top = '1356px';
  d.textContent = t; fig.appendChild(d);
});

const LEG_Y = [1263, 1284, 1308, 1329];
const LEG_KEYS = ['chaet', 'euc', 'frag', 'pseudo'];
SPECIES_NAMES.forEach((nm, i) => {
  const st = SP[LEG_KEYS[i]];
  const m = document.createElement('div');
  m.style.position = 'absolute';
  if (st.shape === 'circle') {
    m.style.left = '112px'; m.style.top = (LEG_Y[i] - 6) + 'px';
    m.style.width = '12px'; m.style.height = '12px'; m.style.borderRadius = '50%'; m.style.background = st.color;
  } else {
    m.style.left = '112px'; m.style.width = '0'; m.style.height = '0';
    m.style.borderLeft = '6px solid transparent'; m.style.borderRight = '6px solid transparent';
    if (st.rot === 180) { m.style.top = (LEG_Y[i] - 4) + 'px'; m.style.borderTop = '10px solid ' + st.color; }
    else { m.style.top = (LEG_Y[i] - 6) + 'px'; m.style.borderBottom = '10px solid ' + st.color; }
  }
  fig.appendChild(m);
  const t = document.createElement('div');
  t.className = 'txt'; t.style.left = '149px'; t.style.top = (LEG_Y[i] - 10) + 'px';
  t.style.fontSize = '17px'; t.style.lineHeight = '20px';
  t.innerHTML = '<i>' + nm[0] + '</i>' + nm[1];
  fig.appendChild(t);
});
</script></body></html>
